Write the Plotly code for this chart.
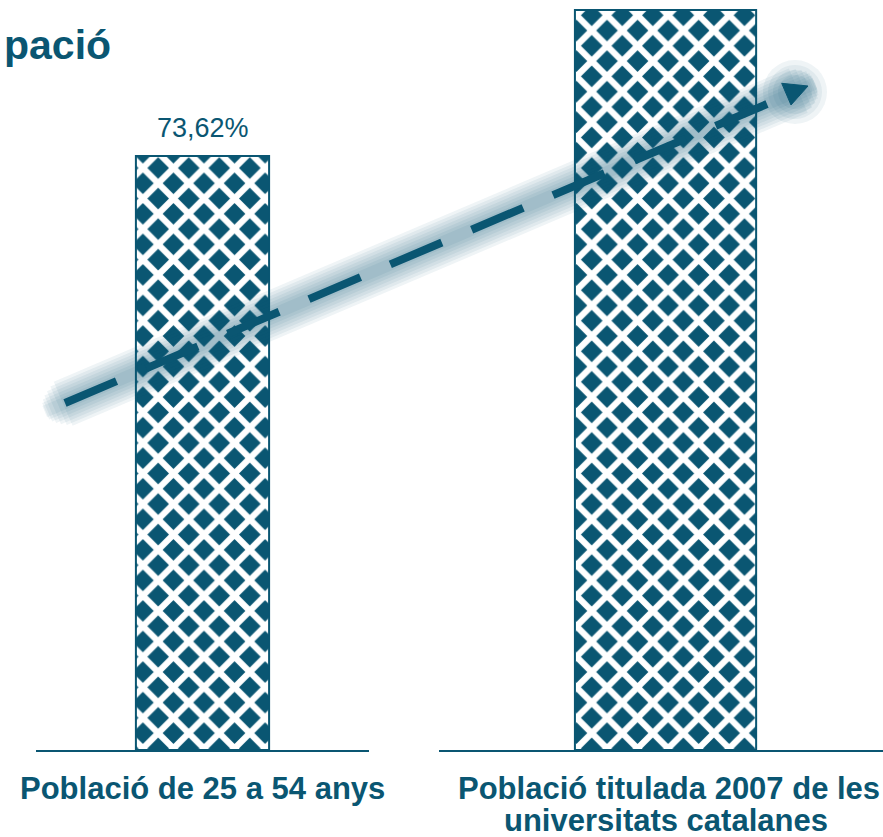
import plotly.graph_objects as go

# ---------------- data ----------------
CATEGORIES = ["Població de 25 a 54 anys",
              "Població titulada 2007 de les universitats catalanes"]
VALUES = [73.62, 91.7]
VALUE_LABELS = ["73,62%", ""]
CATEGORY_LABEL_LINES = [["Població de 25 a 54 anys"],
                        ["Població titulada 2007 de les", "universitats catalanes"]]
TITLE_TEXT = "pació"

# ---------------- style ----------------
W, H = 883, 837
TEAL = "#0a5672"
FONT = "Liberation Sans, Arial, sans-serif"


def px(x):
    return x / W


def py(y):
    return 1 - y / H


fig = go.Figure()

axes = ["x", "x2"]
for i, (cat, val) in enumerate(zip(CATEGORIES, VALUES)):
    fig.add_trace(go.Bar(
        x=[cat], y=[val], xaxis=axes[i], yaxis="y",
        width=0.4,
        marker=dict(
            color=TEAL,
            line=dict(color=TEAL, width=2),
            pattern=dict(shape="x", fgcolor="white", bgcolor=TEAL,
                         size=21.6, solidity=0.5, fillmode="replace"),
        ),
        hoverinfo="skip",
        showlegend=False,
    ))

annotations = []
# value labels above bars
for i, (cat, val, lab) in enumerate(zip(CATEGORIES, VALUES, VALUE_LABELS)):
    if lab:
        annotations.append(dict(
            x=cat, y=val, xref=axes[i], yref="y", text=lab, showarrow=False,
            yanchor="bottom", xanchor="center", yshift=11,
            font=dict(family=FONT, size=27, color=TEAL)))

# category labels under baselines
label_tops = [769, 801]
for i, (cat, lines) in enumerate(zip(CATEGORIES, CATEGORY_LABEL_LINES)):
    for j, line in enumerate(lines):
        annotations.append(dict(
            x=cat, xref=axes[i], y=py(label_tops[j]), yref="paper",
            text="<b>%s</b>" % line, showarrow=False,
            xanchor="center", yanchor="top",
            xshift=3 if (i == 1 and j == 0) else 0,
            font=dict(family=FONT, size=31, color=TEAL)))

# cropped title
annotations.append(dict(
    x=px(2), y=py(20), xref="paper", yref="paper", text="<b>%s</b>" % TITLE_TEXT,
    showarrow=False, xanchor="left", yanchor="top",
    font=dict(family=FONT, size=41, color=TEAL)))

# ---------------- decorative trend arrow (glow + dashes + head) ----------------
shapes = []
x0, y0, x1, y1 = 65, 403, 767, 104
dxu, dyu = (x1 - x0), (y1 - y0)
L = (dxu ** 2 + dyu ** 2) ** 0.5
ux, uy = dxu / L, dyu / L
glow_layers = [(48, -2, 34), (42, -7, 40), (36, -12, 45), (30, -16, 49),
               (24, -19, 51), (18, -21, 52), (12, -22, 52)]
for wdt, ext0, ext1 in glow_layers:
    shapes.append(dict(
        type="line", xref="paper", yref="paper",
        x0=px(x0 + ux * ext0), y0=py(y0 + uy * ext0),
        x1=px(x1 + ux * ext1), y1=py(y1 + uy * ext1),
        line=dict(color="rgba(10,86,114,0.065)", width=wdt), layer="above"))
for r in (32, 27, 22, 17):
    cx, cy = 795, 92
    shapes.append(dict(
        type="circle", xref="paper", yref="paper",
        x0=px(cx - r), x1=px(cx + r), y0=py(cy + r), y1=py(cy - r),
        fillcolor="rgba(10,86,114,0.065)", line=dict(width=0), layer="above"))
shapes.append(dict(
    type="line", xref="paper", yref="paper",
    x0=px(x0), y0=py(y0), x1=px(x1), y1=py(y1),
    line=dict(color=TEAL, width=8, dash="56px,32.4px"), layer="above"))
tri = [(808, 86), (781.7, 83.3), (791, 105)]
path = "M %f,%f L %f,%f L %f,%f Z" % tuple(v for p in tri for v in (px(p[0]), py(p[1])))
shapes.append(dict(type="path", xref="paper", yref="paper", path=path,
                   fillcolor=TEAL, line=dict(color=TEAL, width=1), layer="above"))

ymax = 750 / ((750 - 156) / VALUES[0])

fig.update_layout(
    width=W, height=H,
    margin=dict(l=0, r=0, t=0, b=0),
    paper_bgcolor="white", plot_bgcolor="white",
    showlegend=False,
    bargap=0,
    xaxis=dict(domain=[px(36), px(369)], type="category", range=[-0.5, 0.5],
               showline=True, linecolor=TEAL, linewidth=2, showgrid=False,
               zeroline=False, showticklabels=False, ticks="", anchor="y",
               fixedrange=True),
    xaxis2=dict(domain=[px(439), 1], type="category", range=[-0.5, 0.48],
                showline=True, linecolor=TEAL, linewidth=2, showgrid=False,
                zeroline=False, showticklabels=False, ticks="", anchor="y",
                fixedrange=True),
    yaxis=dict(domain=[py(750), 1], range=[0, ymax], visible=False,
               fixedrange=True),
    annotations=annotations,
    shapes=shapes,
)

fig.write_html("out.html",
               config={"displayModeBar": False, "staticPlot": True},
               post_script="document.body.style.margin='0';"
                           "document.body.style.overflow='hidden';")
